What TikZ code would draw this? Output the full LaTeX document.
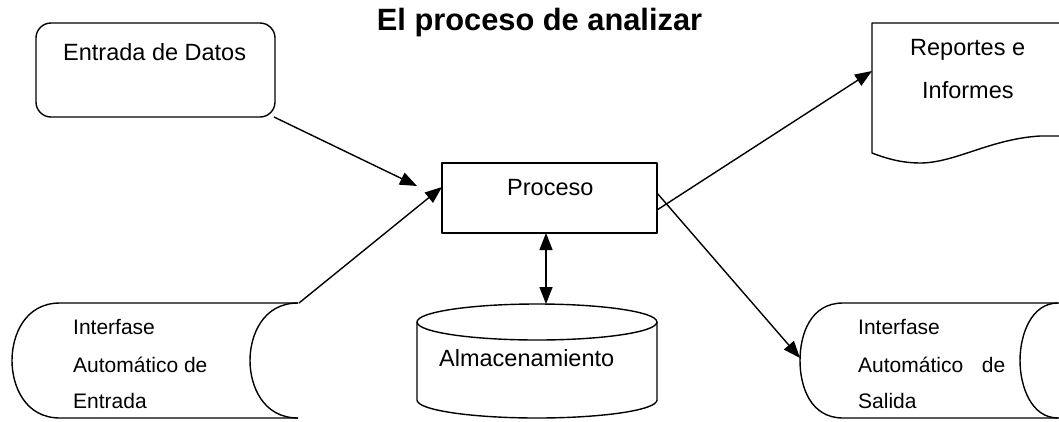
\documentclass[tikz,border=0pt]{standalone}
\usepackage{fontspec}
\setmainfont{Liberation Sans}
\usetikzlibrary{arrows.meta}
\tikzset{
  outline/.style={draw=black, line width=1.4pt, line join=round},
  conn/.style={draw=black, line width=1.4pt, -{Triangle[length=17pt,width=13pt]}},
  dconn/.style={draw=black, line width=1.4pt, {Triangle[length=17pt,width=13pt]}-{Triangle[length=17pt,width=13pt]}},
  lbl/.style={inner sep=0pt, anchor=base west, font=\fontsize{23.5}{28}\selectfont},
  slbl/.style={inner sep=0pt, anchor=base west, font=\fontsize{21}{25}\selectfont},
}
\begin{document}
\begin{tikzpicture}[x=1pt,y=-1pt]
\useasboundingbox (0,0) rectangle (1059,421);
\fill[white] (0,0) rectangle (1059,421);
\clip (0,0) rectangle (1059,421);

% title
\node[inner sep=0pt, anchor=base, font=\fontsize{30.8}{36}\selectfont\bfseries] (title) at (539.5,30) {El proceso de analizar};

% Entrada de Datos
\node[outline, rounded corners=15pt, minimum width=239pt, minimum height=94pt, inner sep=0pt] (ent) at (155.5,70) {};
\node[lbl] (entT) at (63,60) {Entrada de Datos};

% Proceso
\node[outline, minimum width=215pt, minimum height=70pt, inner sep=0pt] (proc) at (549.5,198) {};
\node[lbl] (procT) at (507,195) {Proceso};

% Almacenamiento (cylinder)
\draw[outline] (417,322) -- (417,400) .. controls (417,410) and (471,418) .. (537,418)
   .. controls (603,418) and (657,410) .. (657,400) -- (657,322);
\draw[outline, fill=white] (537,322) ellipse [x radius=120, y radius=18];
\node[lbl] (almT) at (439,366) {Almacenamiento};
\coordinate (alm-n) at (546,304);
\coordinate (proc-s) at (546,233);

% Reportes e Informes (document)
\draw[outline] (1059,23) -- (872,23) -- (872,153) .. controls (890,160) and (905,163) .. (920,163)
   .. controls (955,163) and (990,139) .. (1040,136) -- (1059,136);
\node[lbl] (repT1) at (910,55) {Reportes e};
\node[lbl] (repT2) at (922,98) {Informes};

% Interfase Automatico de Entrada
\draw[outline] (298,303) -- (60,303) .. controls (25,303) and (12,335) .. (12,360.5)
   .. controls (12,386) and (25,418) .. (60,418) -- (298,418);
\draw[outline] (298,303) .. controls (263,303) and (250,335) .. (250,360.5)
   .. controls (250,386) and (263,418) .. (298,418);
\node[slbl] (ieT1) at (73,334) {Interfase};
\node[slbl] (ieT2) at (73,372) {Automático de};
\node[slbl] (ieT3) at (73,408) {Entrada};

% Interfase Automatico de Salida
\draw[outline] (1059,303) -- (843,303) .. controls (810,303) and (800,335) .. (800,360.5)
   .. controls (800,386) and (810,418) .. (843,418) -- (1059,418);
\draw[outline] (1058,303) .. controls (1031,303) and (1020,335) .. (1020,360.5)
   .. controls (1020,386) and (1031,418) .. (1058,418);
\node[slbl] (isT1) at (858,334) {Interfase};
\node[slbl] (isT2) at (858,372) {\makebox[147pt][l]{Automático\hfill de}};
\node[slbl] (isT3) at (858,408) {Salida};

% connector end points
\coordinate (ent-se) at (274,117);
\coordinate (proc-in1) at (417,186);
\coordinate (ie-ne) at (299,303);
\coordinate (proc-in2) at (442,187);
\coordinate (proc-out1) at (657,210);
\coordinate (rep-w) at (872,71);
\coordinate (proc-out2) at (657,193);
\coordinate (is-w) at (800,358);

% connectors
\draw[conn] (ent-se) -- (proc-in1);
\draw[conn] (ie-ne) -- (proc-in2);
\draw[conn] (proc-out1) -- (rep-w);
\draw[conn] (proc-out2) -- (is-w);
\draw[dconn] (proc-s) -- (alm-n);
\end{tikzpicture}
\end{document}
